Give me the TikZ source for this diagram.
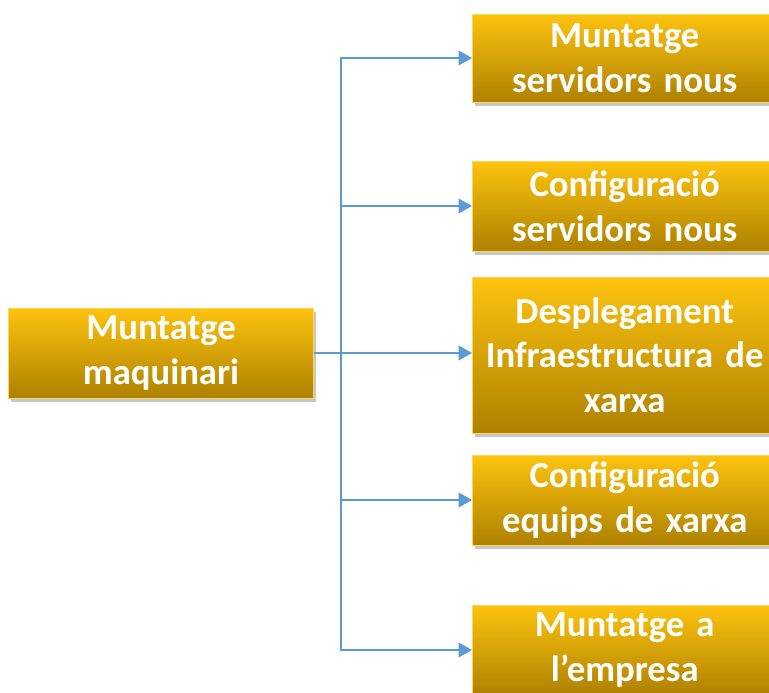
\documentclass[tikz,border=0pt]{standalone}
\usepackage{fontspec}
\setmainfont{Carlito}
\usetikzlibrary{shadows,arrows.meta}

\definecolor{goldtop}{HTML}{FDC30F}
\definecolor{goldbot}{HTML}{AE8100}
\definecolor{linkblue}{HTML}{5B9BD5}

\tikzset{
  task/.style={rectangle, draw=goldtop!70!white, line width=0.4pt,
               top color=goldtop, bottom color=goldbot,
               text=white, font=\fontsize{27.5}{33.5}\selectfont\bfseries,
               align=center, minimum width=227pt, text width=222pt,
               drop shadow={shadow xshift=2pt, shadow yshift=-3pt, opacity=0.45}},
  link/.style={draw=linkblue, line width=1.3pt, -{Triangle[length=10pt,width=11pt]}}
}

\begin{document}
\begin{tikzpicture}[x=0.75pt, y=-0.75pt]
            \path[use as bounding box, clip] (0,0) rectangle (769,693);

            \node[task, minimum height=67.5pt] (M) at (161,353)
                            {Muntatge\\maquinari};

            \node[task, anchor=west, minimum height=66pt] (S1) at (472,58)
                            {Muntatge\\servidors nous};
            \node[task, anchor=west, minimum height=67.5pt] (S2) at (472,206)
                            {Configuració\\servidors nous};
            \node[task, anchor=west, minimum height=117pt] (S3) at (472,355)
                            {Desplegament\\Infraestructura de\\xarxa};
            \node[task, anchor=west, minimum height=67.5pt] (S4) at (472,500)
                            {Configuració\\equips de xarxa};
            \node[task, anchor=west, minimum height=67.5pt] (S5) at (472,650)
                            {Muntatge a\\l’empresa};

            \coordinate (T) at (341,353);

            \draw[link] (M.east) -- (S3.west |- M.east);
            \draw[link] (T) |- (S1.west);
            \draw[link] (T) |- (S2.west);
            \draw[link] (T) |- (S4.west);
            \draw[link] (T) |- (S5.west);
          \end{tikzpicture}
\end{document}
